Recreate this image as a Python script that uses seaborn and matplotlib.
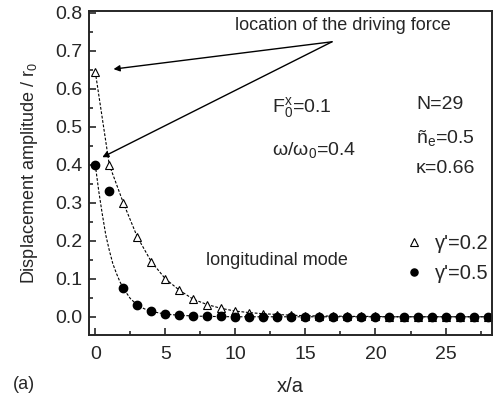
import numpy as np
import pandas as pd
import seaborn as sns
import matplotlib.pyplot as plt

# site index x/a (N=29)
x_sites = list(range(29))

# gamma'=0.2 (open triangles)
amp_g02 = [0.645, 0.40, 0.30, 0.21, 0.145, 0.10, 0.07, 0.046, 0.032, 0.022,
           0.015, 0.011, 0.008, 0.006, 0.004, 0.003, 0.002, 0.002, 0.001, 0.001,
           0.001, 0.0, 0.0, 0.0, 0.0, 0.0, 0.0, 0.0, 0.0]
# gamma'=0.5 (filled circles)
amp_g05 = [0.40, 0.33, 0.075, 0.031, 0.014, 0.007, 0.004, 0.002, 0.001, 0.001,
           0.0, 0.0, 0.0, 0.0, 0.0, 0.0, 0.0, 0.0, 0.0, 0.0,
           0.0, 0.0, 0.0, 0.0, 0.0, 0.0, 0.0, 0.0, 0.0]

# dashed guide curve for gamma'=0.5
fit_x_g05 = [0, 0.25, 0.5, 0.75, 1.0, 1.25, 1.5, 1.75, 2.0, 2.5, 3.0, 3.5, 4.0,
             5, 6, 7, 8, 10, 15, 20, 25, 28]
fit_y_g05 = [0.40, 0.33, 0.27, 0.215, 0.175, 0.14, 0.115, 0.093, 0.075, 0.048,
             0.031, 0.021, 0.014, 0.007, 0.004, 0.002, 0.001, 0.0, 0.0, 0.0, 0.0, 0.0]

df02 = pd.DataFrame({'x': x_sites, 'amp': amp_g02})
df05 = pd.DataFrame({'x': x_sites, 'amp': amp_g05})
fit05 = pd.DataFrame({'x': fit_x_g05, 'amp': fit_y_g05})

sns.set_style('ticks')
plt.rcParams['font.family'] = ['Liberation Sans', 'DejaVu Sans']
plt.rcParams['mathtext.fontset'] = 'custom'
plt.rcParams['mathtext.rm'] = 'Liberation Sans'
plt.rcParams['mathtext.it'] = 'Liberation Sans'

fig = plt.figure(figsize=(4.93, 4.03), dpi=100)
ax = fig.add_axes([0.1805, 0.1687, 0.817, 0.804])

sns.lineplot(data=df02, x='x', y='amp', ax=ax, color='black', lw=0.8,
             linestyle=(0, (2.5, 1.5)), legend=False)
sns.lineplot(data=fit05, x='x', y='amp', ax=ax, color='black', lw=0.8,
             linestyle=(0, (2.5, 1.5)), legend=False)
ax.plot(df02['x'], df02['amp'], linestyle='none', marker='^', ms=6,
        mfc='white', mec='black', mew=0.8, label="γ'=0.2")
ax.plot(df05['x'], df05['amp'], linestyle='none', marker='o', ms=6,
        mfc='black', mec='black', label="γ'=0.5")

ax.set_xlim(-0.45, 28.3)
ax.set_ylim(-0.048, 0.805)
ax.set_xticks(np.arange(0, 26, 5))
ax.set_xticks(np.arange(2.5, 28.3, 5), minor=True)
ax.set_yticks(np.arange(0, 0.81, 0.1))
ax.set_yticks(np.arange(0.05, 0.8, 0.1), minor=True)
ax.yaxis.set_major_formatter(plt.FormatStrFormatter('%.1f'))
ax.tick_params(which='both', direction='in', width=1.2, top=False, right=False)
ax.tick_params(which='major', length=5, labelsize=14)
ax.tick_params(axis='x', which='major', pad=8)
ax.tick_params(axis='y', which='major', pad=5)
ax.tick_params(which='minor', length=3)
for s in ax.spines.values():
    s.set_linewidth(1.4)
    s.set_visible(True)

ax.set_xlabel('x/a', fontsize=14.5, labelpad=10)
ax.set_ylabel('Displacement amplitude / r$_0$', fontsize=13, labelpad=11)

ax.text(10.0, 0.768, 'location of the driving force', fontsize=13, va='center')
ax.annotate('', xy=(1.3, 0.652), xytext=(16.9, 0.724),
            arrowprops=dict(arrowstyle='-|>', color='black', lw=1.0,
                            mutation_scale=9, shrinkA=0, shrinkB=0))
ax.annotate('', xy=(0.5, 0.42), xytext=(16.9, 0.724),
            arrowprops=dict(arrowstyle='-|>', color='black', lw=1.0,
                            mutation_scale=9, shrinkA=0, shrinkB=0))

ax.text(12.6, 0.55, r'F$_0^\mathrm{x}$=0.1', fontsize=14, va='center')
ax.text(12.6, 0.439, r'ω/ω$_0$=0.4', fontsize=14, va='center')
ax.text(22.9, 0.558, 'N=29', fontsize=14, va='center')
ax.text(22.9, 0.47, r'ñ$_\mathrm{e}$=0.5', fontsize=14, va='center')
ax.text(22.9, 0.391, 'κ=0.66', fontsize=14, va='center')
ax.text(7.9, 0.149, 'longitudinal mode', fontsize=13, va='center')

ax.legend(loc='center left', bbox_to_anchor=(0.732, 0.236), frameon=False,
          fontsize=14.5, handletextpad=0.45, labelspacing=0.55,
          handlelength=1.2, markerscale=0.85)

fig.text(0.026, 0.045, '(a)', fontsize=13, va='center')

fig.savefig('out.png', dpi=100)
